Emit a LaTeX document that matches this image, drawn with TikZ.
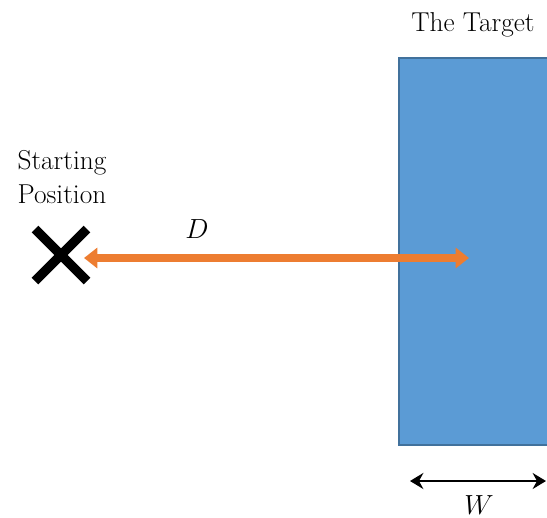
\documentclass[tikz,border=0pt]{standalone}
\usetikzlibrary{arrows.meta}
\definecolor{targetblue}{HTML}{5B9BD5}
\definecolor{targetedge}{HTML}{41719C}
\definecolor{pathorange}{HTML}{ED7D31}
\begin{document}
\begin{tikzpicture}[x=0.75pt,y=-0.75pt,font=\fontsize{20.5}{25}\selectfont]
\useasboundingbox (0,0) rectangle (547,518);
\filldraw[fill=targetblue,draw=targetedge,line width=1.5pt](399,58)rectangle(570,445);
\node (target) at (473,25) {The Target};
\node[align=center] (startlbl) at (62,177) {Starting\\Position};
\draw[line width=7pt](35,229)--(87,281);
\draw[line width=7pt](35,281)--(87,229);
\coordinate (dleft) at (84,258);
\coordinate (dright) at (469,258);
\draw[pathorange,line width=6.5pt,{Triangle[length=10pt,width=15pt]}-{Triangle[length=10pt,width=15pt]}](dleft)--(dright);
\node (dlbl) at (197,229) {$D$};
\coordinate (wleft) at (410,481);
\coordinate (wright) at (546,481);
\draw[line width=2.2pt,{Stealth[length=10pt,width=12pt]}-{Stealth[length=10pt,width=12pt]}](wleft)--(wright);
\node (wlbl) at (479,505) {$W$};
\end{tikzpicture}
\end{document}
